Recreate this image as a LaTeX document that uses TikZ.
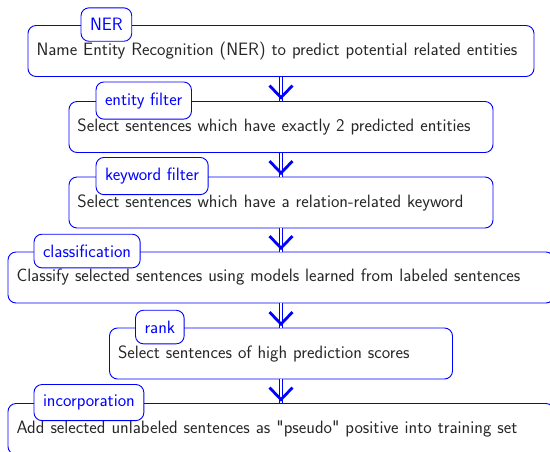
\documentclass[tikz,border=0pt]{standalone}
\usepackage{fontspec}
\setsansfont{Latin Modern Sans}[Ligatures=TeXOff]
\begin{document}
\begin{tikzpicture}[x=1pt,y=-1pt,
  font=\sffamily\fontsize{17.9}{21}\selectfont,
  box/.style={draw=blue, line width=0.9pt, rounded corners=8pt, minimum height=51pt, inner xsep=8.5pt, inner ysep=0pt, align=left, text=black!85, anchor=center},
  tag/.style={draw=blue, fill=white, line width=0.9pt, rounded corners=8pt, inner xsep=9pt, inner ysep=10.5pt, text=blue, anchor=west},
  shaft/.style={draw=blue, double distance=2.5pt, line width=0.9pt},
  chev/.style={draw=blue, line width=2.8pt}
]
\useasboundingbox (0,0) rectangle (550,451);
\clip (0,0) rectangle (550,451);

\node[box, text width=489pt] (n1) at (281,51) {Name Entity Recognition (NER) to predict potential related entities};
\node[box, text width=407pt] (n2) at (281,127) {Select sentences which have exactly 2 predicted entities};
\node[box, text width=407pt] (n3) at (281,202.5) {Select sentences which have a relation-related keyword};
\node[box, text width=529pt] (n4) at (281,277.5) {Classify selected sentences using models learned from labeled sentences};
\node[box, text width=326pt] (n5) at (281,353.5) {Select sentences of high prediction scores};
\node[box, text width=529pt] (n6) at (281,429) {Add selected unlabeled sentences as "pseudo" positive into training set};

\node[tag] (t1) at ([xshift=53pt,yshift=0.5pt]n1.north west) {NER};
\node[tag] (t2) at ([xshift=27pt,yshift=0.5pt]n2.north west) {entity filter};
\node[tag] (t3) at ([xshift=27pt,yshift=0.5pt]n3.north west) {keyword filter};
\node[tag] (t4) at ([xshift=26pt,yshift=0.5pt]n4.north west) {classification};
\node[tag] (t5) at ([xshift=26pt,yshift=0.5pt]n5.north west) {rank};
\node[tag] (t6) at ([xshift=26pt,yshift=0.5pt]n6.north west) {incorporation};

\foreach \a/\b in {n1/n2,n2/n3,n3/n4,n4/n5,n5/n6}{
  \draw[shaft] (\a.south) -- (\b.north);
  \draw[chev] ([xshift=-11.5pt,yshift=15.5pt]\b.north) -- ([yshift=3.5pt]\b.north) -- ([xshift=11.5pt,yshift=15.5pt]\b.north);
}
\end{tikzpicture}
\end{document}
